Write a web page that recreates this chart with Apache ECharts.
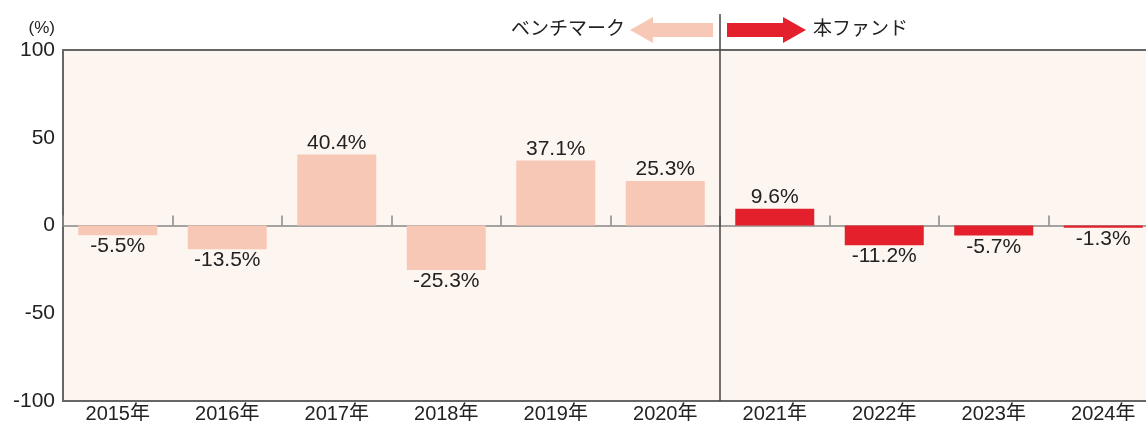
<!DOCTYPE html>
<html>
<head>
<meta charset="utf-8">
<script src="https://cdn.jsdelivr.net/npm/echarts@6/dist/echarts.min.js"></script>
<style>
  html, body { margin: 0; padding: 0; background: #fff; }
  #chart { width: 1146px; height: 421px; }
</style>
</head>
<body>
<div id="chart"></div>
<script>
// 年次リターン
var years = ['2015年', '2016年', '2017年', '2018年', '2019年', '2020年', '2021年', '2022年', '2023年', '2024年'];
var benchmark = [-5.5, -13.5, 40.4, -25.3, 37.1, 25.3, null, null, null, null];
var fund = [null, null, null, null, null, null, 9.6, -11.2, -5.7, -1.3];
var yTicks = [-100, -50, 0, 50, 100];

var font = "'Liberation Sans', 'Noto Sans CJK JP', sans-serif";
var myChart = echarts.init(document.getElementById('chart'));

// 負の値はラベルを下に
function withLabels(arr) {
  return arr.map(function (v) {
    if (v === null) return v;
    return { value: v, label: { position: v < 0 ? 'bottom' : 'top' } };
  });
}

var valueLabel = {
  show: true,
  distance: 1,
  fontSize: 21,
  color: '#222',
  fontFamily: font,
  formatter: function (p) { return p.value.toFixed(1) + '%'; }
};

myChart.setOption({
  animation: false,
  grid: {
    left: 63, width: 1095, top: 50, bottom: 20,
    outerBoundsMode: 'none',
    containLabel: false,
    show: true,
    backgroundColor: '#fdf5f0',
    borderColor: '#666',
    borderWidth: 2
  },
  xAxis: [
    {
      type: 'category',
      data: years,
      position: 'bottom',
      axisLine: { show: false, onZero: false },
      axisTick: { show: false },
      axisLabel: { fontSize: 20, color: '#222', fontFamily: font, margin: 3 }
    },
    {
      type: 'category',
      data: years,
      position: 'bottom',
      axisLine: { show: true, onZero: true, lineStyle: { color: '#888', width: 1.5 } },
      axisTick: { show: true, inside: true, length: 10, lineStyle: { color: '#888', width: 1.5 } },
      axisLabel: { show: false }
    }
  ],
  yAxis: {
    type: 'value',
    min: yTicks[0],
    max: yTicks[yTicks.length - 1],
    interval: 50,
    name: '(%)',
    nameGap: 13,
    nameTextStyle: { fontSize: 17, color: '#222', fontFamily: font, align: 'right', padding: [0, 8, 0, 0] },
    axisLine: { show: false },
    axisTick: { show: false },
    splitLine: { show: false },
    axisLabel: { fontSize: 21, color: '#222', fontFamily: font, margin: 8 }
  },
  series: [
    {
      name: 'ベンチマーク',
      type: 'bar',
      data: withLabels(benchmark),
      barWidth: 79,
      barGap: '-100%',
      itemStyle: { color: '#f7c8b6' },
      label: valueLabel
    },
    {
      name: '本ファンド',
      type: 'bar',
      data: withLabels(fund),
      barWidth: 79,
      barGap: '-100%',
      itemStyle: { color: '#e4202d' },
      label: valueLabel
    }
  ]
});

// 区切り線と凡例の矢印
var sepX = (myChart.convertToPixel({ xAxisIndex: 0 }, years[5]) + myChart.convertToPixel({ xAxisIndex: 0 }, years[6])) / 2;
var bottomY = myChart.convertToPixel({ yAxisIndex: 0 }, yTicks[0]);
var ay = 30;
myChart.setOption({
  graphic: [
    { type: 'line', shape: { x1: sepX, y1: 14, x2: sepX, y2: bottomY }, style: { stroke: '#444', lineWidth: 1.5 }, z: 100 },
    {
      type: 'polygon',
      shape: { points: [[sepX - 7, ay - 7], [sepX - 67, ay - 7], [sepX - 67, ay - 13], [sepX - 90, ay], [sepX - 67, ay + 13], [sepX - 67, ay + 7], [sepX - 7, ay + 7]] },
      style: { fill: '#f7c8b6' }
    },
    {
      type: 'polygon',
      shape: { points: [[sepX + 7, ay - 7], [sepX + 63, ay - 7], [sepX + 63, ay - 13], [sepX + 86, ay], [sepX + 63, ay + 13], [sepX + 63, ay + 7], [sepX + 7, ay + 7]] },
      style: { fill: '#e4202d' }
    },
    { type: 'text', x: sepX - 95, y: ay, style: { text: 'ベンチマーク', fontSize: 19, fill: '#222', fontFamily: font, align: 'right', verticalAlign: 'middle' } },
    { type: 'text', x: sepX + 93, y: ay, style: { text: '本ファンド', fontSize: 19, fill: '#222', fontFamily: font, align: 'left', verticalAlign: 'middle' } }
  ]
});
</script>
</body>
</html>
